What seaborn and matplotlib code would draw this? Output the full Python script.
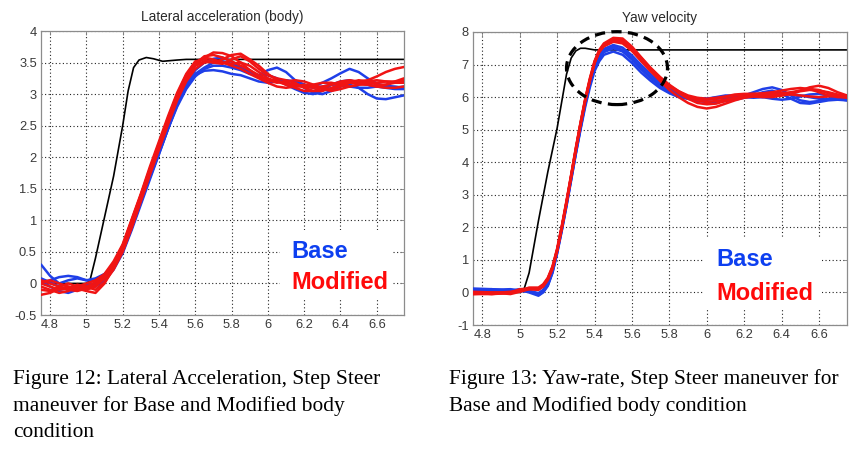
import numpy as np
import pandas as pd
import matplotlib
matplotlib.use("Agg")
import matplotlib.pyplot as plt
from matplotlib.patches import Ellipse, Rectangle
import seaborn as sns

# ---------------- data: Lateral acceleration (body) ----------------
T_LAT = [4.75, 4.8, 4.85, 4.9, 4.95, 5.0, 5.05, 5.1, 5.15, 5.2, 5.25, 5.3, 5.35, 5.4,
         5.45, 5.5, 5.55, 5.6, 5.65, 5.7, 5.75, 5.8, 5.85, 5.9, 5.95, 6.0, 6.05, 6.1,
         6.15, 6.2, 6.25, 6.3, 6.35, 6.4, 6.45, 6.5, 6.55, 6.6, 6.65, 6.7, 6.75]

lat_ref_t = [4.75, 5.0, 5.02, 5.05, 5.1, 5.15, 5.2, 5.23, 5.26, 5.29, 5.33, 5.37, 5.42, 5.5, 5.55, 6.75]
lat_ref_v = [0.0, 0.0, 0.05, 0.4, 1.05, 1.7, 2.5, 3.05, 3.42, 3.54, 3.58, 3.56, 3.52, 3.54, 3.55, 3.55]

lat_base_1 = [0.30, 0.12, 0.0, 0.05, 0.08, 0.05, 0.05, 0.12, 0.28, 0.52, 0.9, 1.32, 1.72, 2.1,
              2.48, 2.85, 3.12, 3.32, 3.42, 3.5, 3.52, 3.48, 3.4, 3.33, 3.3, 3.38, 3.42, 3.35,
              3.22, 3.15, 3.12, 3.18, 3.25, 3.33, 3.4, 3.35, 3.25, 3.17, 3.12, 3.1, 3.12]
lat_base_2 = [0.08, 0.02, -0.05, -0.1, -0.08, -0.02, 0.0, 0.1, 0.25, 0.5, 0.88, 1.28, 1.68, 2.05,
              2.45, 2.82, 3.1, 3.3, 3.37, 3.38, 3.36, 3.32, 3.3, 3.25, 3.2, 3.18, 3.2, 3.22,
              3.2, 3.1, 3.02, 3.0, 3.05, 3.12, 3.15, 3.1, 3.0, 2.93, 2.92, 2.95, 2.98]
lat_base_3 = [0.05, -0.05, -0.12, -0.15, -0.1, -0.05, -0.05, 0.05, 0.22, 0.48, 0.85, 1.25, 1.65, 2.05,
              2.45, 2.85, 3.15, 3.38, 3.5, 3.56, 3.58, 3.52, 3.42, 3.35, 3.28, 3.22, 3.2, 3.18,
              3.15, 3.12, 3.1, 3.12, 3.15, 3.15, 3.12, 3.1, 3.1, 3.12, 3.13, 3.12, 3.1]
lat_base_4 = [0.0, 0.05, 0.1, 0.12, 0.1, 0.05, 0.08, 0.15, 0.3, 0.55, 0.92, 1.3, 1.7, 2.08,
              2.45, 2.8, 3.08, 3.28, 3.4, 3.45, 3.45, 3.42, 3.38, 3.32, 3.3, 3.3, 3.25, 3.15,
              3.08, 3.02, 3.0, 3.05, 3.15, 3.2, 3.22, 3.18, 3.15, 3.12, 3.1, 3.08, 3.08]

lat_mod_1 = [-0.18, -0.15, -0.08, -0.05, -0.08, -0.12, -0.15, 0.0, 0.25, 0.55, 0.95, 1.35, 1.78, 2.18,
             2.58, 2.95, 3.25, 3.45, 3.58, 3.66, 3.65, 3.6, 3.5, 3.38, 3.28, 3.22, 3.2, 3.18,
             3.15, 3.12, 3.1, 3.12, 3.15, 3.18, 3.2, 3.2, 3.22, 3.28, 3.35, 3.4, 3.43]
lat_mod_2 = [0.05, 0.0, -0.05, -0.1, -0.12, -0.08, -0.02, 0.1, 0.3, 0.6, 1.0, 1.4, 1.82, 2.22,
             2.62, 3.0, 3.3, 3.5, 3.58, 3.55, 3.5, 3.48, 3.5, 3.45, 3.35, 3.25, 3.2, 3.15,
             3.1, 3.05, 3.05, 3.1, 3.15, 3.2, 3.22, 3.2, 3.18, 3.18, 3.2, 3.2, 3.2]
lat_mod_3 = [-0.05, -0.1, -0.15, -0.12, -0.05, 0.0, 0.05, 0.15, 0.35, 0.62, 1.02, 1.42, 1.85, 2.25,
             2.65, 3.02, 3.32, 3.52, 3.55, 3.5, 3.55, 3.62, 3.64, 3.55, 3.45, 3.32, 3.22, 3.15,
             3.12, 3.12, 3.15, 3.18, 3.18, 3.15, 3.12, 3.15, 3.2, 3.22, 3.2, 3.18, 3.18]
lat_mod_4 = [0.0, -0.05, -0.1, -0.08, -0.02, -0.05, -0.1, 0.02, 0.22, 0.5, 0.88, 1.3, 1.72, 2.12,
             2.52, 2.9, 3.2, 3.4, 3.5, 3.52, 3.5, 3.45, 3.4, 3.32, 3.25, 3.18, 3.12, 3.1,
             3.12, 3.15, 3.12, 3.08, 3.05, 3.08, 3.12, 3.15, 3.15, 3.12, 3.1, 3.1, 3.12]
lat_mod_5 = [-0.1, -0.12, -0.05, 0.0, -0.05, -0.1, -0.05, 0.08, 0.28, 0.58, 0.98, 1.38, 1.8, 2.2,
             2.6, 2.98, 3.28, 3.48, 3.6, 3.62, 3.58, 3.52, 3.45, 3.38, 3.3, 3.22, 3.18, 3.2,
             3.22, 3.2, 3.15, 3.1, 3.08, 3.12, 3.18, 3.22, 3.2, 3.15, 3.15, 3.18, 3.22]
lat_mod_6 = [0.02, 0.05, 0.0, -0.05, -0.1, -0.05, 0.02, 0.12, 0.32, 0.6, 1.0, 1.4, 1.8, 2.2,
             2.58, 2.95, 3.25, 3.45, 3.52, 3.5, 3.48, 3.55, 3.6, 3.52, 3.4, 3.3, 3.25, 3.22,
             3.18, 3.1, 3.05, 3.05, 3.1, 3.15, 3.18, 3.18, 3.15, 3.12, 3.15, 3.2, 3.25]

# ---------------- data: Yaw velocity ----------------
T_YAW = [4.75, 4.85, 4.95, 5.0, 5.05, 5.1, 5.125, 5.15, 5.175, 5.2, 5.225, 5.25, 5.275, 5.3,
         5.325, 5.35, 5.375, 5.4, 5.425, 5.45, 5.5, 5.55, 5.6, 5.65, 5.7, 5.75, 5.8, 5.85,
         5.9, 5.95, 6.0, 6.05, 6.1, 6.15, 6.2, 6.25, 6.3, 6.35, 6.4, 6.45, 6.5, 6.55, 6.6,
         6.65, 6.7, 6.75]

yaw_ref_t = [4.75, 5.0, 5.02, 5.05, 5.1, 5.15, 5.2, 5.25, 5.275, 5.3, 5.325, 5.35, 5.4, 5.45, 6.75]
yaw_ref_v = [0.0, 0.0, 0.05, 0.6, 2.2, 3.7, 5.05, 6.7, 7.2, 7.42, 7.5, 7.5, 7.45, 7.45, 7.45]

yaw_base_1 = [0.08, 0.1, 0.05, 0.08, 0.0, -0.1, 0.0, 0.2, 0.6, 1.2, 1.9, 2.65, 3.45, 4.25,
              5.0, 5.7, 6.3, 6.8, 7.1, 7.3, 7.4, 7.3, 7.05, 6.75, 6.5, 6.28, 6.12, 6.0,
              5.95, 5.92, 5.92, 5.95, 5.98, 6.0, 6.05, 6.15, 6.25, 6.3, 6.22, 6.05, 5.9, 5.85,
              5.88, 5.95, 6.0, 5.98]
yaw_base_2 = [0.1, 0.05, 0.08, 0.05, 0.02, -0.05, 0.05, 0.25, 0.65, 1.25, 1.95, 2.7, 3.5, 4.3,
              5.05, 5.78, 6.4, 6.9, 7.2, 7.38, 7.5, 7.4, 7.15, 6.85, 6.58, 6.35, 6.18, 6.05,
              5.98, 5.95, 5.95, 5.98, 6.0, 6.02, 6.05, 6.05, 6.0, 5.95, 5.92, 5.95, 6.02, 6.08,
              6.1, 6.05, 5.95, 5.9]
yaw_base_3 = [0.05, 0.08, 0.1, 0.06, 0.05, -0.08, 0.02, 0.22, 0.62, 1.22, 1.92, 2.68, 3.48, 4.28,
              5.05, 5.8, 6.45, 6.95, 7.25, 7.42, 7.55, 7.45, 7.2, 6.9, 6.62, 6.38, 6.2, 6.05,
              5.95, 5.88, 5.85, 5.85, 5.88, 5.92, 5.98, 6.05, 6.15, 6.2, 6.1, 5.95, 5.82, 5.8,
              5.85, 5.9, 5.92, 5.9]
yaw_base_4 = [0.12, 0.1, 0.05, 0.1, 0.05, -0.02, 0.08, 0.28, 0.7, 1.3, 2.0, 2.75, 3.55, 4.35,
              5.1, 5.85, 6.5, 7.0, 7.3, 7.48, 7.6, 7.52, 7.28, 6.98, 6.7, 6.45, 6.25, 6.1,
              6.0, 5.95, 5.95, 6.0, 6.05, 6.05, 6.0, 5.98, 6.0, 6.05, 6.1, 6.1, 6.05, 6.0,
              5.95, 5.92, 5.95, 6.0]

yaw_mod_1 = [-0.05, -0.05, 0.0, 0.05, 0.12, 0.12, 0.22, 0.42, 0.78, 1.32, 2.02, 2.78, 3.6, 4.42,
             5.2, 5.92, 6.55, 7.1, 7.45, 7.65, 7.82, 7.8, 7.55, 7.22, 6.9, 6.62, 6.38, 6.18,
             6.02, 5.9, 5.85, 5.88, 5.92, 5.98, 6.02, 6.05, 6.08, 6.1, 6.12, 6.15, 6.2, 6.3,
             6.35, 6.28, 6.15, 6.05]
yaw_mod_2 = [0.0, -0.05, -0.02, 0.08, 0.1, 0.08, 0.18, 0.38, 0.72, 1.28, 1.98, 2.75, 3.55, 4.38,
             5.15, 5.88, 6.5, 7.05, 7.4, 7.6, 7.75, 7.7, 7.45, 7.12, 6.8, 6.5, 6.22, 6.0,
             5.82, 5.7, 5.65, 5.7, 5.8, 5.9, 5.98, 6.02, 6.05, 6.08, 6.1, 6.08, 6.05, 6.02,
             6.0, 6.02, 6.05, 6.05]
yaw_mod_3 = [-0.02, 0.0, -0.05, 0.02, 0.1, 0.1, 0.2, 0.4, 0.75, 1.3, 2.0, 2.76, 3.58, 4.4,
             5.18, 5.9, 6.52, 7.05, 7.38, 7.56, 7.7, 7.65, 7.42, 7.1, 6.8, 6.55, 6.32, 6.15,
             6.02, 5.95, 5.92, 5.95, 6.0, 6.05, 6.08, 6.1, 6.08, 6.05, 6.05, 6.1, 6.18, 6.22,
             6.2, 6.15, 6.08, 6.02]
yaw_mod_4 = [-0.05, -0.02, 0.02, 0.05, 0.15, 0.15, 0.25, 0.45, 0.8, 1.35, 2.05, 2.82, 3.62, 4.45,
             5.22, 5.95, 6.58, 7.1, 7.42, 7.62, 7.78, 7.75, 7.52, 7.2, 6.88, 6.6, 6.35, 6.12,
             5.95, 5.82, 5.78, 5.8, 5.88, 5.95, 6.0, 6.02, 6.0, 6.0, 6.05, 6.12, 6.2, 6.25,
             6.22, 6.12, 6.02, 5.98]
yaw_mod_5 = [0.02, 0.0, 0.0, 0.1, 0.12, 0.1, 0.2, 0.42, 0.76, 1.3, 2.0, 2.78, 3.58, 4.4,
             5.18, 5.9, 6.52, 7.05, 7.4, 7.58, 7.72, 7.68, 7.45, 7.15, 6.85, 6.58, 6.35, 6.18,
             6.05, 5.98, 5.95, 5.98, 6.02, 6.08, 6.1, 6.1, 6.12, 6.15, 6.2, 6.25, 6.28, 6.25,
             6.15, 6.05, 6.0, 6.0]

# ---------------- labels ----------------
X_TICKS = [4.8, 5.0, 5.2, 5.4, 5.6, 5.8, 6.0, 6.2, 6.4, 6.6]
X_TICK_LABELS = ["4.8", "5", "5.2", "5.4", "5.6", "5.8", "6", "6.2", "6.4", "6.6"]
LAT_Y_TICKS = [-0.5, 0, 0.5, 1, 1.5, 2, 2.5, 3, 3.5, 4]
LAT_Y_LABELS = ["-0.5", "0", "0.5", "1", "1.5", "2", "2.5", "3", "3.5", "4"]
YAW_Y_TICKS = [-1, 0, 1, 2, 3, 4, 5, 6, 7, 8]
YAW_Y_LABELS = ["-1", "0", "1", "2", "3", "4", "5", "6", "7", "8"]
TITLES = ["Lateral acceleration (body)", "Yaw velocity"]
GROUPS = ["Base", "Modified"]
CAPTION_12 = ["Figure 12: Lateral Acceleration, Step Steer",
              "maneuver for Base and Modified body",
              "condition"]
CAPTION_13 = ["Figure 13: Yaw-rate, Step Steer maneuver for",
              "Base and Modified body condition"]
HIGHLIGHT = dict(x=5.52, y=6.89, w=0.54, h=2.24)

BLUE = "#1f3fe8"
RED = "#f01414"
TEXT_BLUE = "#0d3ff0"
TEXT_RED = "#ff0a0a"
PALETTE = {"Base": BLUE, "Modified": RED}


def long_frame(t, base_runs, mod_runs):
    rows = []
    for group, runs in (("Base", base_runs), ("Modified", mod_runs)):
        for k, run in enumerate(runs):
            for ti, vi in zip(t, run):
                rows.append({"t": ti, "v": vi, "group": group, "run": f"{group}{k}"})
    return pd.DataFrame(rows)


lat_df = long_frame(T_LAT, [lat_base_1, lat_base_2, lat_base_3, lat_base_4],
                    [lat_mod_1, lat_mod_2, lat_mod_3, lat_mod_4, lat_mod_5, lat_mod_6])
yaw_df = long_frame(T_YAW, [yaw_base_1, yaw_base_2, yaw_base_3, yaw_base_4],
                    [yaw_mod_1, yaw_mod_2, yaw_mod_3, yaw_mod_4, yaw_mod_5])

sns.set_style("white")
plt.rcParams["font.family"] = ["Liberation Sans", "DejaVu Sans"]

W, H = 865, 455
fig = plt.figure(figsize=(W / 100, H / 100), dpi=100)
ax1 = fig.add_axes([41 / W, 1 - 315 / H, 363 / W, 284 / H])
ax2 = fig.add_axes([473 / W, 1 - 325 / H, 374 / W, 293 / H])


def draw(ax, df, ref_t, ref_v, yticks, ylabels, ylim, title):
    ax.plot(ref_t, ref_v, color="black", lw=1.2, zorder=2)
    for grp in GROUPS:
        sns.lineplot(data=df[df.group == grp], x="t", y="v", units="run", estimator=None,
                     color=PALETTE[grp], lw=1.8, legend=False, ax=ax, zorder=3,
                     sort=False)
    ax.set_xlim(4.75, 6.75)
    ax.set_ylim(*ylim)
    ax.set_xticks(X_TICKS)
    ax.set_xticklabels(X_TICK_LABELS)
    ax.set_yticks(yticks)
    ax.set_yticklabels(ylabels)
    ax.set_xlabel("")
    ax.set_ylabel("")
    ax.grid(True, color="#222222", linestyle=(0, (1, 2.2)), linewidth=0.8)
    ax.set_axisbelow(True)
    ax.tick_params(axis="both", direction="in", length=3, width=0.6, colors="#808080",
                   labelcolor="#3a3a3a", labelsize=9.3, top=True, right=True, pad=3)
    for s in ax.spines.values():
        s.set_color("#8c8c8c")
        s.set_linewidth(0.9)
    ax.set_title(title, fontsize=9.8, color="#2a2a2a", pad=7)


draw(ax1, lat_df, lat_ref_t, lat_ref_v, LAT_Y_TICKS, LAT_Y_LABELS, (-0.5, 4), TITLES[0])
draw(ax2, yaw_df, yaw_ref_t, yaw_ref_v, YAW_Y_TICKS, YAW_Y_LABELS, (-1, 8), TITLES[1])

ell = Ellipse((HIGHLIGHT["x"], HIGHLIGHT["y"]), HIGHLIGHT["w"], HIGHLIGHT["h"], fill=False,
              edgecolor="black", lw=2.3, linestyle=(0, (3.2, 2.0)), zorder=5, clip_on=False)
ax2.add_patch(ell)

# in-plot group labels on a white patch (hides the grid behind them)
for ax, box, xb, yb, ym in ((ax1, (0.658, 0.060, 0.309, 0.240), 0.691, 0.222, 0.113),
                            (ax2, (0.618, 0.058, 0.315, 0.242), 0.650, 0.225, 0.109)):
    ax.add_patch(Rectangle(box[:2], box[2], box[3], transform=ax.transAxes,
                           facecolor="white", edgecolor="none", zorder=1.5))
    ax.text(xb, yb, GROUPS[0], transform=ax.transAxes, color=TEXT_BLUE, fontsize=17,
            fontweight="bold", va="center", ha="left", zorder=6)
    ax.text(xb, ym, GROUPS[1], transform=ax.transAxes, color=TEXT_RED, fontsize=17,
            fontweight="bold", va="center", ha="left", zorder=6)

# captions
cap_font = dict(family=["Liberation Serif", "DejaVu Serif"], fontsize=15.4, color="black",
                va="baseline", ha="left")
for i, line in enumerate(CAPTION_12):
    fig.text(13 / W, 1 - (384 + 26.5 * i) / H, line, **cap_font)
for i, line in enumerate(CAPTION_13):
    fig.text(449 / W, 1 - (384 + 26.5 * i) / H, line, **cap_font)

fig.savefig("out.png", dpi=100, facecolor="white")
